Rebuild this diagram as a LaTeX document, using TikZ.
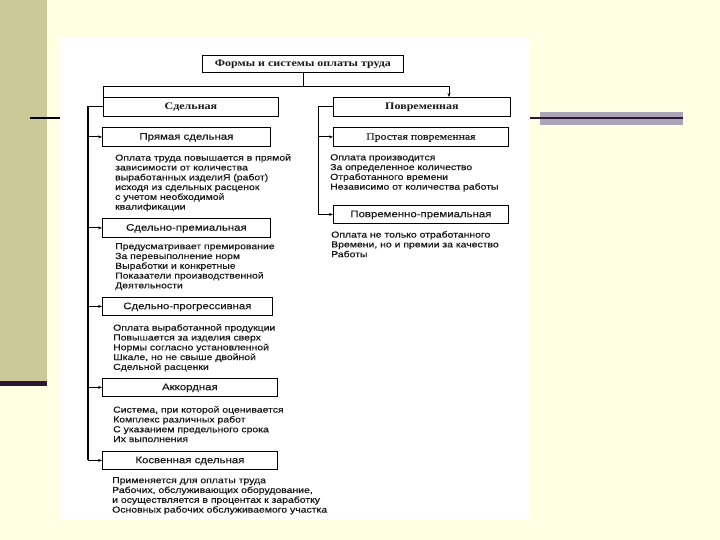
\documentclass[tikz,border=0pt]{standalone}
\usepackage{fontspec}
\setmainfont{Liberation Sans}
\newfontfamily\txtfont[FakeStretch=1.2,FakeBold=0.6]{Liberation Sans}
\newfontfamily\lblfont[FakeStretch=1.2,FakeBold=0.5]{Liberation Sans}
\newfontfamily\serfont[FakeStretch=1.2]{Liberation Serif}
\newfontfamily\serlblfont[FakeStretch=1.2,FakeBold=0.5]{Liberation Serif}
\usetikzlibrary{arrows.meta,shadows}
\definecolor{slidebg}{RGB}{255,255,228}
\definecolor{olive}{RGB}{204,201,153}
\definecolor{darkpurp}{RGB}{45,22,52}
\definecolor{bargray}{RGB}{170,164,182}
\definecolor{ink}{RGB}{25,25,25}
\begin{document}
\begin{tikzpicture}[x=1pt,y=-1pt,
  box/.style={draw=black,line width=0.8pt,fill=white,inner sep=0pt,anchor=north west,
    general shadow={fill=black,shadow xshift=0.8pt,shadow yshift=-0.8pt},
    text height=6.8pt,text depth=1.2pt,
    font=\lblfont\fontsize{9.5}{11}\selectfont,text=ink},
  headbox/.style={box,font=\serfont\bfseries\fontsize{10}{11}\selectfont},
  txt/.style={anchor=north west,inner sep=0pt,align=left,text=ink,
    font=\txtfont\fontsize{8.7}{9.8}\selectfont},
  conn/.style={draw=black,line width=0.8pt},
  arr/.style={conn,-{Stealth[length=4pt,width=3pt]}}
]
\useasboundingbox (0,0) rectangle (720,540);
% slide background
\fill[slidebg] (0,0) rectangle (720,540);
\fill[olive] (0,0) rectangle (47,381);
\fill[darkpurp] (0,381) rectangle (47,386);
\fill[white] (60,38) rectangle (530,520);
\draw[black,line width=1.5pt] (30,118) -- (60,118);
\fill[bargray] (540,112) rectangle (683,125);
\draw[darkpurp,line width=1.5pt] (530,118) -- (683,118);

% boxes
\node[headbox,minimum width=201,minimum height=17] (top) at (202,55) {Формы и системы оплаты труда};
\node[headbox,minimum width=175,minimum height=19] (sd) at (103,97) {Сдельная};
\node[headbox,minimum width=177,minimum height=19] (pv) at (333,97) {Повременная};

\node[box,minimum width=168,minimum height=19] (k1) at (102,127) {Прямая сдельная};
\node[box,minimum width=168,minimum height=19] (k2) at (102,218) {Сдельно-премиальная};
\node[box,minimum width=170,minimum height=18] (k3) at (102,297) {Сдельно-прогрессивная};
\node[box,minimum width=175,minimum height=18] (k4) at (102,378) {Аккордная};
\node[box,minimum width=175,minimum height=18] (k5) at (102,451) {Косвенная сдельная};

\node[box,minimum width=175,minimum height=19,font=\serlblfont\fontsize{9.8}{11}\selectfont] (p1) at (333,127) {Простая повременная};
\node[box,minimum width=175,minimum height=18] (p2) at (333,205) {Повременно-премиальная};

% texts
\node[txt] (t1) at (115,154) {Оплата труда повышается в прямой\\зависимости от количества\\выработанных изделиЯ (работ)\\исходя из сдельных расценок\\с учетом необходимой\\квалификации};
\node[txt] (t2) at (115,243) {Предусматривает премирование\\За перевыполнение норм\\Выработки и конкретные\\Показатели производственной\\Деятельности};
\node[txt] (t3) at (113,324) {Оплата выработанной продукции\\Повышается за изделия сверх\\Нормы согласно установленной\\Шкале, но не свыше двойной\\Сдельной расценки};
\node[txt] (t4) at (113,406) {Система, при которой оценивается\\Комплекс различных работ\\С указанием предельного срока\\Их выполнения};
\node[txt] (t5) at (112,477) {Применяется для оплаты труда\\Рабочих, обслуживающих оборудование,\\и осуществляется в процентах к заработку\\Основных рабочих обслуживаемого участка};
\node[txt] (r1) at (330,154) {Оплата производится\\За определенное количество\\Отработанного времени\\Независимо от количества работы};
\node[txt] (r2) at (331,231) {Оплата не только отработанного\\Времени, но и премии за качество\\Работы};

% connectors
\coordinate (hL) at (103,86);
\coordinate (hR) at (449,86);
\draw[conn] (top.south) -- (top.south |- hL);
\draw[conn] (hL) -- (hR);
\draw[conn] (hL) -- (sd.north west);
\draw[arr] (hR) -- (hR |- pv.north);

\coordinate (lt) at (88,0);
\draw[conn,line width=1.1pt] (sd.west) -- (sd.west -| lt) -- (k5.west -| lt);
\foreach \k in {k1,k2,k3,k4,k5} {
  \draw[arr] (\k.west -| lt) -- (\k.west);
}
\coordinate (rt) at (318,0);
\draw[conn] (pv.west) -- (pv.west -| rt) -- (p2.west -| rt);
\draw[arr] (p1.west -| rt) -- (p1.west);
\draw[arr] (p2.west -| rt) -- (p2.west);
\end{tikzpicture}
\end{document}
